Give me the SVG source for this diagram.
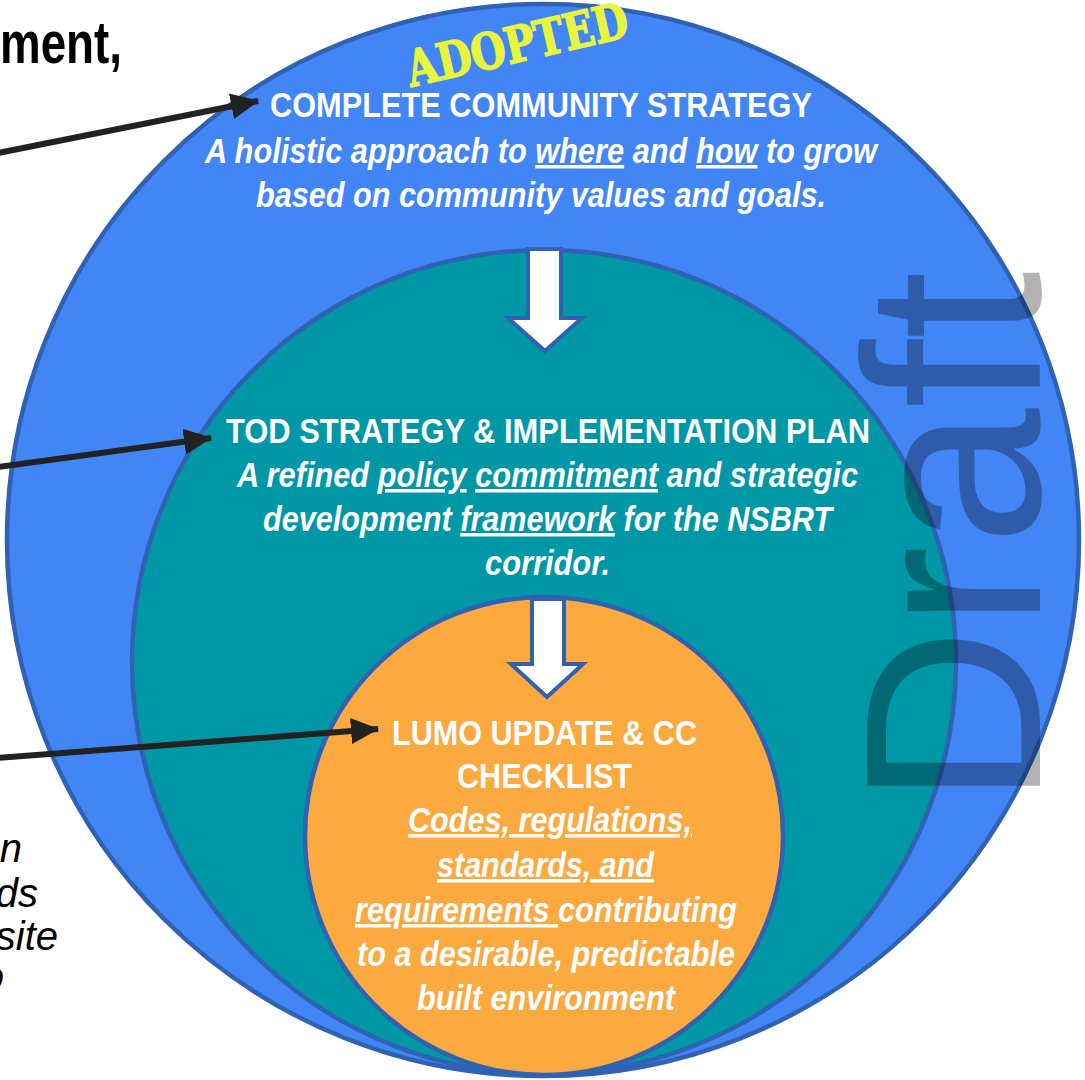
<svg xmlns="http://www.w3.org/2000/svg" width="1085" height="1080" viewBox="0 0 1085 1080">
<style>
.ring{stroke:#2F62B3;stroke-width:4.5}
.h{fill:#fff;font-family:"Liberation Sans Narrow","Liberation Sans",Arial,sans-serif;font-weight:bold;font-size:35px}
.i{font-style:italic}
.u{text-decoration:underline}
.blk{fill:#000;font-family:"Liberation Sans Narrow","Liberation Sans",Arial,sans-serif}
.conn{stroke:#222;stroke-width:6;fill:none}
.block{fill:#fff;stroke:#2F62B3;stroke-width:4;stroke-linejoin:miter}
</style>
<defs>
<marker id="ah" markerUnits="userSpaceOnUse" markerWidth="28" markerHeight="26" refX="27" refY="13" orient="auto">
<path d="M0,0 L28,13 L0,26 z" fill="#222"/>
</marker>
</defs>
<rect width="1085" height="1080" fill="#fff"/>

<text class="blk" x="0" y="63" font-size="60" font-weight="bold" textLength="122" lengthAdjust="spacingAndGlyphs">ment,</text>
<g class="blk" font-size="40" font-style="italic" text-anchor="end">
<text x="22" y="862">un</text>
<text x="38" y="907">rds</text>
<text x="58" y="950">site</text>
<text x="4" y="990">o</text>
</g>

<g id="node-complete-community">
<circle class="ring" cx="543" cy="540" r="536" fill="#4285F4"/>
<text class="h" x="270" y="117" textLength="542" lengthAdjust="spacingAndGlyphs">COMPLETE COMMUNITY STRATEGY</text>
<text class="h i" x="205" y="163" textLength="672" lengthAdjust="spacingAndGlyphs">A holistic approach to <tspan class="u">where</tspan> and <tspan class="u">how</tspan> to grow</text>
<text class="h i" x="256" y="207" textLength="570" lengthAdjust="spacingAndGlyphs">based on community values and goals.</text>
<text transform="translate(517,44) rotate(-13)" x="0" y="18" text-anchor="middle" fill="#E8F53C" stroke="#E8F53C" stroke-width="1.5" font-family="'DejaVu Serif','Liberation Serif',serif" font-weight="bold" font-size="50" textLength="226" lengthAdjust="spacingAndGlyphs">ADOPTED</text>
</g>

<g id="node-tod-strategy">
<circle class="ring" cx="544" cy="662" r="412" fill="#0097A7"/>
<text class="h" x="226" y="443" textLength="644" lengthAdjust="spacingAndGlyphs">TOD STRATEGY &amp; IMPLEMENTATION PLAN</text>
<text class="h i" x="237" y="487" textLength="621" lengthAdjust="spacingAndGlyphs">A refined <tspan class="u">policy</tspan> <tspan class="u">commitment</tspan> and strategic</text>
<text class="h i" x="263" y="531" textLength="569" lengthAdjust="spacingAndGlyphs">development <tspan class="u">framework</tspan> for the NSBRT</text>
<text class="h i" x="485" y="575" textLength="125" lengthAdjust="spacingAndGlyphs">corridor.</text>
</g>

<g id="node-lumo">
<circle class="ring" cx="544" cy="836" r="239" fill="#FCA940"/>
<text class="h" x="392" y="745" textLength="305" lengthAdjust="spacingAndGlyphs">LUMO UPDATE &amp; CC</text>
<text class="h" x="457" y="788" textLength="175" lengthAdjust="spacingAndGlyphs">CHECKLIST</text>
<text class="h i u" x="408" y="832" textLength="284" lengthAdjust="spacingAndGlyphs">Codes, regulations,</text>
<text class="h i u" x="437" y="877" textLength="217" lengthAdjust="spacingAndGlyphs">standards, and</text>
<text class="h i" x="355" y="922" textLength="382" lengthAdjust="spacingAndGlyphs"><tspan class="u">requirements </tspan>contributing</text>
<text class="h i" x="357" y="966" textLength="378" lengthAdjust="spacingAndGlyphs">to a desirable, predictable</text>
<text class="h i" x="417" y="1010" textLength="258" lengthAdjust="spacingAndGlyphs">built environment</text>
</g>

<g id="connectors">
<path class="block" d="M528,249 L561,249 L561,318 L582,318 L545,351 L508,318 L528,318 Z"/>
<path class="block" d="M532,599 L564,599 L564,664 L583,664 L547,697 L511,664 L532,664 Z"/>
<line class="conn" x1="-2" y1="153" x2="258" y2="101" marker-end="url(#ah)"/>
<line class="conn" x1="-2" y1="467" x2="211" y2="438" marker-end="url(#ah)"/>
<line class="conn" x1="-2" y1="758" x2="378" y2="729" marker-end="url(#ah)"/>
</g>

<text transform="translate(1040,806) rotate(-90)" x="0" y="0" fill="#000" fill-opacity="0.3" font-family="'Liberation Sans',Arial,sans-serif" font-size="250" textLength="535" lengthAdjust="spacingAndGlyphs">Draft</text>
</svg>
